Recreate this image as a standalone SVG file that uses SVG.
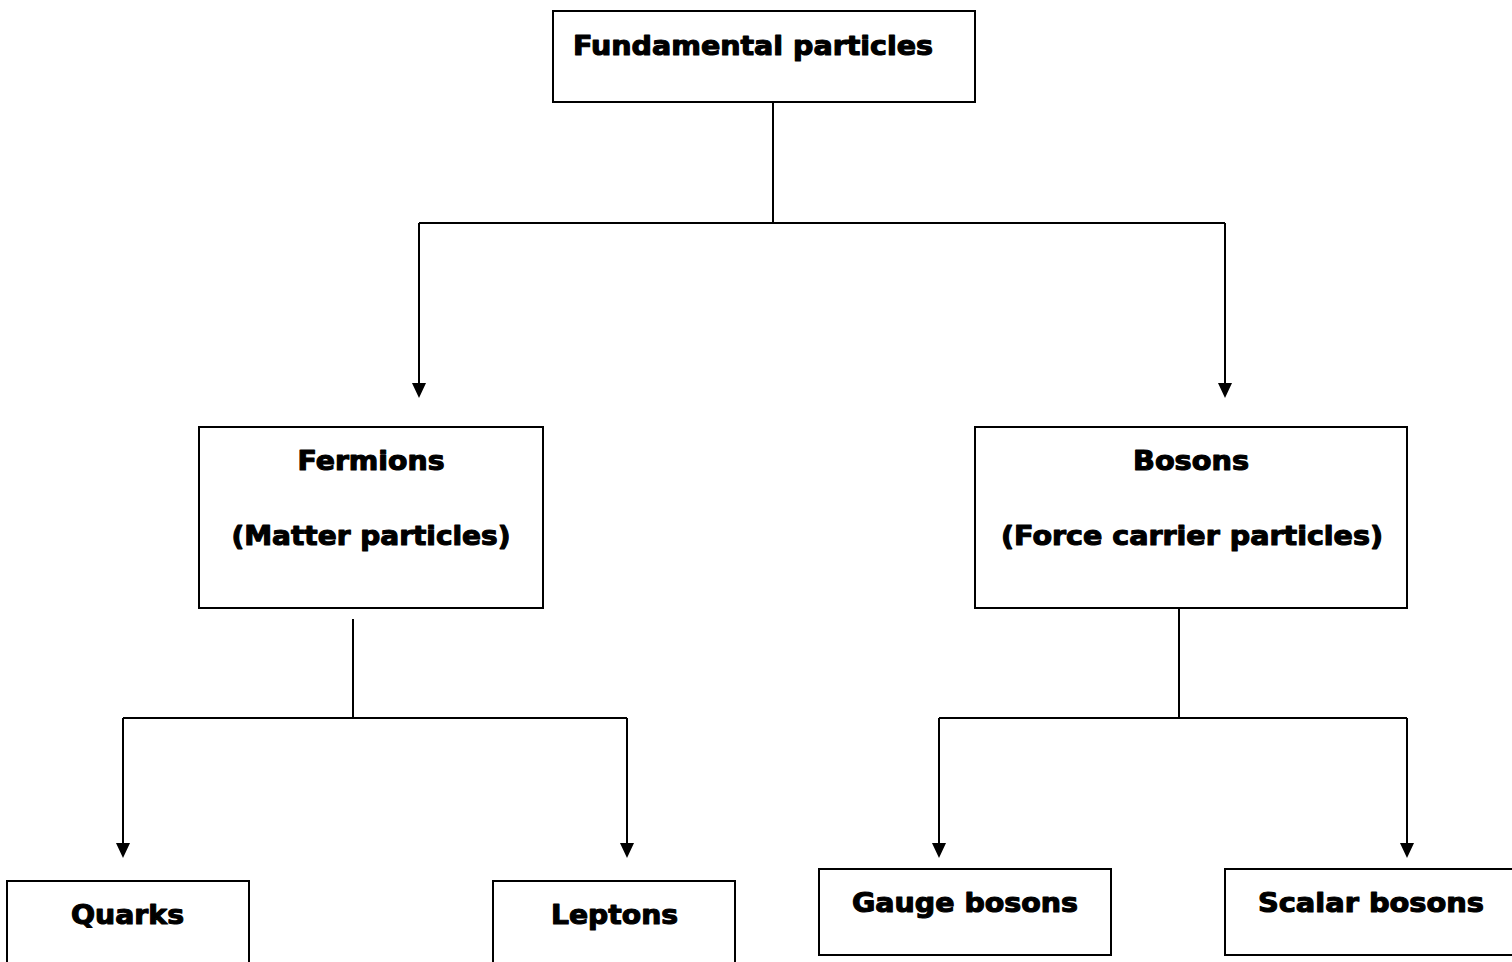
<svg xmlns="http://www.w3.org/2000/svg" width="1512" height="962" viewBox="0 0 1512 962">
<style>
.box{fill:#fff;stroke:#000;stroke-width:2}
.t{font-family:"DejaVu Sans","Liberation Sans",sans-serif;font-weight:bold;font-size:26px;fill:#000;stroke:#000;stroke-width:1.1;stroke-linejoin:round}
.c{text-anchor:middle}
.ln{fill:none;stroke:#000;stroke-width:2}
.ah{fill:#000}
</style>
<rect width="1512" height="962" fill="#fff"/>
<g id="connectors">
<path class="ln" d="M773,102 V223 M419,223 H1225"/>
<path class="ln" d="M419,223 V383"/>
<path class="ah" d="M412,383 L426,383 L419,398 Z"/>
<path class="ln" d="M1225,223 V383"/>
<path class="ah" d="M1218,383 L1232,383 L1225,398 Z"/>
<path class="ln" d="M353,619 V718 M123,718 H627"/>
<path class="ln" d="M123,718 V843"/>
<path class="ah" d="M116,843 L130,843 L123,858 Z"/>
<path class="ln" d="M627,718 V843"/>
<path class="ah" d="M620,843 L634,843 L627,858 Z"/>
<path class="ln" d="M1179,608 V718 M939,718 H1407"/>
<path class="ln" d="M939,718 V843"/>
<path class="ah" d="M932,843 L946,843 L939,858 Z"/>
<path class="ln" d="M1407,718 V843"/>
<path class="ah" d="M1400,843 L1414,843 L1407,858 Z"/>
</g>
<g id="fundamental">
<rect class="box" x="553" y="11" width="422" height="91"/>
<text class="t" x="573" y="55" textLength="360" lengthAdjust="spacingAndGlyphs">Fundamental particles</text>
</g>
<g id="fermions">
<rect class="box" x="199" y="427" width="344" height="181"/>
<text class="t c" x="371" y="470" textLength="147" lengthAdjust="spacingAndGlyphs">Fermions</text>
<text class="t c" x="371" y="545" textLength="279" lengthAdjust="spacingAndGlyphs">(Matter particles)</text>
</g>
<g id="bosons">
<rect class="box" x="975" y="427" width="432" height="181"/>
<text class="t c" x="1191" y="470" textLength="116" lengthAdjust="spacingAndGlyphs">Bosons</text>
<text class="t c" x="1192" y="545" textLength="382" lengthAdjust="spacingAndGlyphs">(Force carrier particles)</text>
</g>
<g id="quarks">
<rect class="box" x="7" y="881" width="242" height="100"/>
<text class="t c" x="127.5" y="924" textLength="113" lengthAdjust="spacingAndGlyphs">Quarks</text>
</g>
<g id="leptons">
<rect class="box" x="493" y="881" width="242" height="100"/>
<text class="t c" x="614.5" y="924" textLength="127" lengthAdjust="spacingAndGlyphs">Leptons</text>
</g>
<g id="gauge">
<rect class="box" x="819" y="869" width="292" height="86"/>
<text class="t c" x="965" y="912" textLength="226" lengthAdjust="spacingAndGlyphs">Gauge bosons</text>
</g>
<g id="scalar">
<rect class="box" x="1225" y="869" width="310" height="86"/>
<text class="t c" x="1371" y="912" textLength="226" lengthAdjust="spacingAndGlyphs">Scalar bosons</text>
</g>
</svg>
